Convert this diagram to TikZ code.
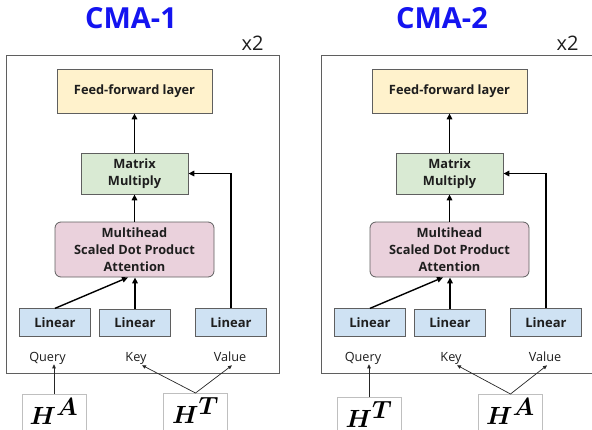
\documentclass[tikz,border=0pt]{standalone}
\usepackage{bm}
\usepackage{fontspec}
\setmainfont{Open Sans}
\usetikzlibrary{arrows.meta}
\definecolor{ffc}{HTML}{FFF2CC}
\definecolor{mmc}{HTML}{D9EAD3}
\definecolor{attc}{HTML}{EAD1DC}
\definecolor{linc}{HTML}{CFE2F3}
\definecolor{edgec}{HTML}{5F5F5F}
\definecolor{txt}{HTML}{1E1E1E}
\definecolor{ttlblue}{HTML}{1414F0}
\tikzset{
  blk/.style={draw=edgec, line width=0.8pt, text=txt, align=center, inner sep=0pt,
    font=\fontsize{12.8}{16.8}\selectfont\bfseries},
  ffbox/.style={blk, fill=ffc, minimum width=155pt, minimum height=44pt},
  mmbox/.style={blk, fill=mmc, minimum width=107pt, minimum height=41pt},
  attbox/.style={blk, fill=attc, minimum width=159pt, minimum height=55pt, rounded corners=6pt},
  linbox/.style={blk, fill=linc, minimum width=71pt, minimum height=27.5pt, font=\fontsize{13}{15}\selectfont\bfseries},
  framebox/.style={draw=edgec, line width=0.8pt, minimum width=273pt, minimum height=318pt, inner sep=0pt},
  ttl/.style={text=ttlblue, font=\fontsize{29}{31}\selectfont\bfseries, inner sep=0pt},
  reptxt/.style={text=txt, font=\fontsize{20}{22}\selectfont, inner sep=0pt},
  lbl/.style={text=txt, anchor=base, font=\fontsize{12.7}{14}\selectfont, inner sep=0pt},
  symbox/.style={draw=black!25, line width=0.6pt, minimum width=64pt, minimum height=40pt,
    inner sep=0pt, text height=30pt, text depth=10pt, font=\fontsize{34}{34}\selectfont, anchor=north},
  arr/.style={-{Triangle[length=6pt,width=5.5pt]}, line width=1.4pt, draw=black},
  tarr/.style={-{Triangle[length=4pt,width=3.5pt]}, line width=0.7pt, draw=black!85},
}
\begin{document}
\begin{tikzpicture}[x=1pt,y=-1pt]
  \useasboundingbox (0,0) rectangle (592,429);
  \clip (0,0) rectangle (592,429);
  % ---------- panel 1 ----------
  \node[ttl] (atitle) at (131,18) {CMA-1};
  \node[reptxt] (arep) at (252.5,43) {x2};
  \node[framebox] (aframe) at (142.5,214) {};
  \node[ffbox] (aff) at (134.5,91) {Feed-forward layer};
  \node[mmbox] (amm) at (134.5,173.5) {Matrix\\Multiply};
  \node[attbox] (aatt) at (134.5,249.5) {Multihead\\Scaled Dot Product\\Attention};
  \node[linbox] (al1) at (55,322.5) {Linear};
  \node[linbox] (al2) at (135,323) {Linear};
  \node[linbox] (al3) at (231,322.5) {Linear};
  \node[lbl] (aq) at (47.5,361) {Query};
  \node[lbl] (ak) at (136,361) {Key};
  \node[lbl] (av) at (230,361) {Value};
  \node[symbox] (ah1) at (54,394) {$\bm{H^{A}}$};
  \node[symbox] (ah2) at (195.5,393) {$\bm{H^{T}}$};
  \draw[arr] (amm.north) -- (aff.south);
  \draw[arr] (aatt.north) -- (amm.south);
  \draw[arr] (al1.north) -- ([xshift=-6.5pt]aatt.south);
  \draw[arr] (al2.north) -- (al2.north |- aatt.south);
  \draw[arr] (al3.north) |- (amm.east);
  \draw[tarr] (ah1.north) -- (ah1.north |- aq.south);
  \draw[tarr] (ah2.north) -- ([xshift=6pt,yshift=-1pt]ak.south);
  \draw[tarr] (ah2.north) -- ([xshift=2pt,yshift=-4pt]av.south);
  % ---------- panel 2 ----------
  \node[ttl] (btitle) at (442,18) {CMA-2};
  \node[reptxt] (brep) at (567.5,43) {x2};
  \node[framebox] (bframe) at (457.5,214) {};
  \node[ffbox] (bff) at (449.5,91) {Feed-forward layer};
  \node[mmbox] (bmm) at (449.5,173.5) {Matrix\\Multiply};
  \node[attbox] (batt) at (449.5,249.5) {Multihead\\Scaled Dot Product\\Attention};
  \node[linbox] (bl1) at (370,322.5) {Linear};
  \node[linbox] (bl2) at (450,323) {Linear};
  \node[linbox] (bl3) at (546,322.5) {Linear};
  \node[lbl] (bq) at (363,361) {Query};
  \node[lbl] (bk) at (451,361) {Key};
  \node[lbl] (bv) at (545,361) {Value};
  \node[symbox] (bh1) at (369,397) {$\bm{H^{T}}$};
  \node[symbox] (bh2) at (510.5,394) {$\bm{H^{A}}$};
  \draw[arr] (bmm.north) -- (bff.south);
  \draw[arr] (batt.north) -- (bmm.south);
  \draw[arr] (bl1.north) -- ([xshift=-6.5pt]batt.south);
  \draw[arr] (bl2.north) -- (bl2.north |- batt.south);
  \draw[arr] (bl3.north) |- (bmm.east);
  \draw[tarr] (bh1.north) -- (bh1.north |- bq.south);
  \draw[tarr] (bh2.north) -- ([xshift=6pt,yshift=-1pt]bk.south);
  \draw[tarr] (bh2.north) -- ([xshift=2pt,yshift=-4pt]bv.south);
\end{tikzpicture}
\end{document}
